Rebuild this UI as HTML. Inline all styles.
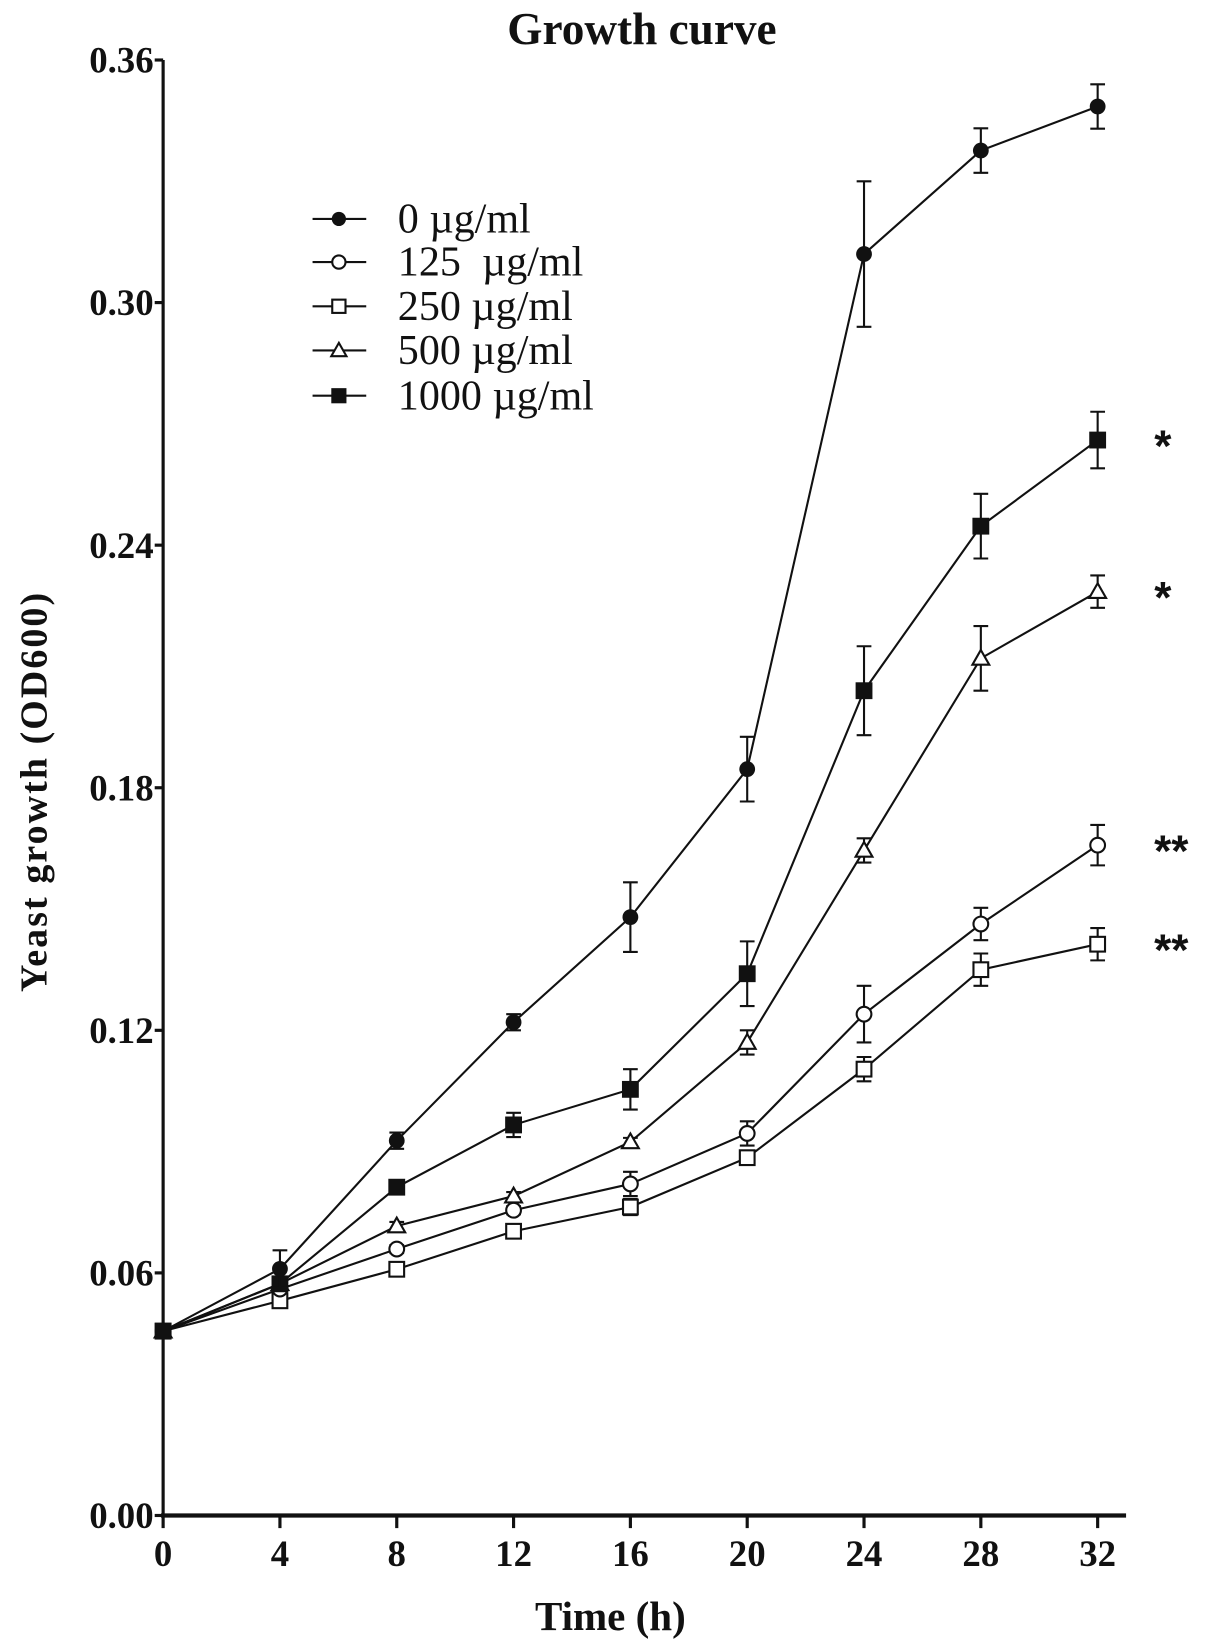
<!DOCTYPE html>
<html><head><meta charset="utf-8"><style>
html,body{margin:0;padding:0;background:#fff;}
svg{display:block;}
text{font-family:"Liberation Serif",serif;fill:#111;}
</style></head><body>
<svg id="chart" width="1205" height="1646" viewBox="0 0 1145 1564" xmlns="http://www.w3.org/2000/svg">
<text x="610" y="42" text-anchor="middle" font-size="43" font-weight="bold">Growth curve</text>
<text transform="translate(44,752) rotate(-90)" text-anchor="middle" font-size="36" font-weight="bold" letter-spacing="2">Yeast growth (OD600)</text>
<text x="580" y="1549" text-anchor="middle" font-size="39" font-weight="bold">Time (h)</text>
<g id="axes"></g>
<g id="series"></g>
<g id="legend"></g>
</svg>
<script>
const times=[0,4,8,12,16,20,24,28,32];
const xTicks=[0,4,8,12,16,20,24,28,32];
const yTicks=[0,0.06,0.12,0.18,0.24,0.30,0.36];
const yTickLabels=["0.00","0.06","0.12","0.18","0.24","0.30","0.36"];
const seriesNames=["0 µg/ml","125  µg/ml","250 µg/ml","500 µg/ml","1000 µg/ml"];
const s0=[0.0456,0.061,0.0927,0.122,0.148,0.1846,0.312,0.3376,0.3485];
const s0err=[0.001,0.0046,0.002,0.002,0.0086,0.008,0.018,0.0055,0.0055];
const s125=[0.0456,0.056,0.0659,0.0755,0.082,0.0945,0.124,0.1463,0.1658];
const s125err=[0.001,0.001,0.001,0.001,0.003,0.003,0.007,0.004,0.005];
const s250=[0.0456,0.0531,0.0609,0.0703,0.0763,0.0885,0.1104,0.135,0.1413];
const s250err=[0.001,0.001,0.001,0.001,0.002,0.001,0.003,0.004,0.004];
const s500=[0.0456,0.0573,0.0716,0.079,0.0924,0.117,0.1645,0.212,0.2285];
const s500err=[0.001,0.001,0.001,0.001,0.001,0.003,0.003,0.008,0.004];
const s1000=[0.0456,0.0573,0.0812,0.0966,0.1054,0.134,0.204,0.2447,0.266];
const s1000err=[0.001,0.001,0.001,0.003,0.005,0.008,0.011,0.008,0.007];
const sigLabels=["*","*","**","**"];
const sigValues=[0.266,0.2285,0.1658,0.1413];

const NS="http://www.w3.org/2000/svg";
const X0=155,X1=1043,Y0=1440,Y1=57;
const xs=t=>X0+(t-0)/(32-0)*(X1-X0);
const ys=v=>Y0-(v-0)/(0.36-0)*(Y0-Y1);
function mk(tag,attrs,parent){const e=document.createElementNS(NS,tag);for(const k in attrs)e.setAttribute(k,attrs[k]);parent.appendChild(e);return e;}
const axes=document.getElementById('axes');
let yl=mk('line',{x1:X0,y1:Y1,x2:X0,y2:Y0,stroke:'#111','stroke-width':3},axes);


let xl=mk('line',{x1:X0-2,y1:Y0,x2:1070,y2:Y0,stroke:'#111','stroke-width':4},axes);


yTicks.forEach((v,i)=>{
  const y=ys(v);
  mk('line',{x1:X0-8,y1:y,x2:X0,y2:y,stroke:'#111','stroke-width':3},axes);
  const t=mk('text',{x:X0-9,y:y+12,'text-anchor':'end','font-size':35,'font-weight':'bold'},axes);
  t.textContent=yTickLabels[i];
  
  
});
xTicks.forEach(v=>{
  const x=xs(v);
  mk('line',{x1:x,y1:Y0,x2:x,y2:Y0+12,stroke:'#111','stroke-width':3},axes);
  const t=mk('text',{x:x,y:Y0+48,'text-anchor':'middle','font-size':35,'font-weight':'bold'},axes);
  t.textContent=v;
  
  
});
function marker(type,x,y,g,sc){
  sc=sc||1;const sw=2;
  if(type==='fc')return mk('circle',{cx:x,cy:y,r:7.5*sc,fill:'#111'},g);
  if(type==='oc')return mk('circle',{cx:x,cy:y,r:7*sc,fill:'#fff',stroke:'#111','stroke-width':sw},g);
  if(type==='os')return mk('rect',{x:x-7*sc,y:y-7*sc,width:14*sc,height:14*sc,fill:'#fff',stroke:'#111','stroke-width':sw},g);
  if(type==='ot')return mk('polygon',{points:`${x},${y-8*sc} ${x-8*sc},${y+6*sc} ${x+8*sc},${y+6*sc}`,fill:'#fff',stroke:'#111','stroke-width':sw},g);
  if(type==='fs')return mk('rect',{x:x-8*sc,y:y-8*sc,width:16*sc,height:16*sc,fill:'#111'},g);
}
const allSeries=[[s250,s250err,'os','series-250'],[s125,s125err,'oc','series-125'],[s500,s500err,'ot','series-500'],[s1000,s1000err,'fs','series-1000'],[s0,s0err,'fc','series-0']];
const sg=document.getElementById('series');
allSeries.forEach(([vals,errs,type,name])=>{
  const g=mk('g',{},sg);
  
  
  const pts=vals.map((v,i)=>xs(times[i])+','+ys(v)).join(' ');
  mk('polyline',{points:pts,fill:'none',stroke:'#111','stroke-width':2},g);
  vals.forEach((v,i)=>{
    const x=xs(times[i]),yt=ys(v+errs[i]),yb=ys(v-errs[i]);
    mk('path',{d:`M${x},${yt}V${yb}M${x-7},${yt}H${x+7}M${x-7},${yb}H${x+7}`,stroke:'#111','stroke-width':2,fill:'none'},g);
  });
  vals.forEach((v,i)=>{
    const m=marker(type,xs(times[i]),ys(v),g);
    
    
  });
});
sigLabels.forEach((s,i)=>{
  const t=mk('text',{x:s.length>1?1113:1105,y:ys(sigValues[i])+20,'text-anchor':'middle','font-size':42,'font-weight':'bold',style:'font-family:"Liberation Sans",sans-serif'},sg);
  t.textContent=s;
  
  
});
const lg=document.getElementById('legend');


const legTypes=['fc','oc','os','ot','fs'];
const legY=[208,249,291,333,376];
seriesNames.forEach((n,i)=>{
  const g=mk('g',{},lg);
  
  
  mk('line',{x1:297,y1:legY[i],x2:348,y2:legY[i],stroke:'#111','stroke-width':2},g);
  marker(legTypes[i],322,legY[i],g,0.9);
  const t=mk('text',{x:378,y:legY[i]+13,'font-size':40},g);
  t.setAttribute('style','white-space:pre');
  t.textContent=n;
});
</script>
</body></html>
